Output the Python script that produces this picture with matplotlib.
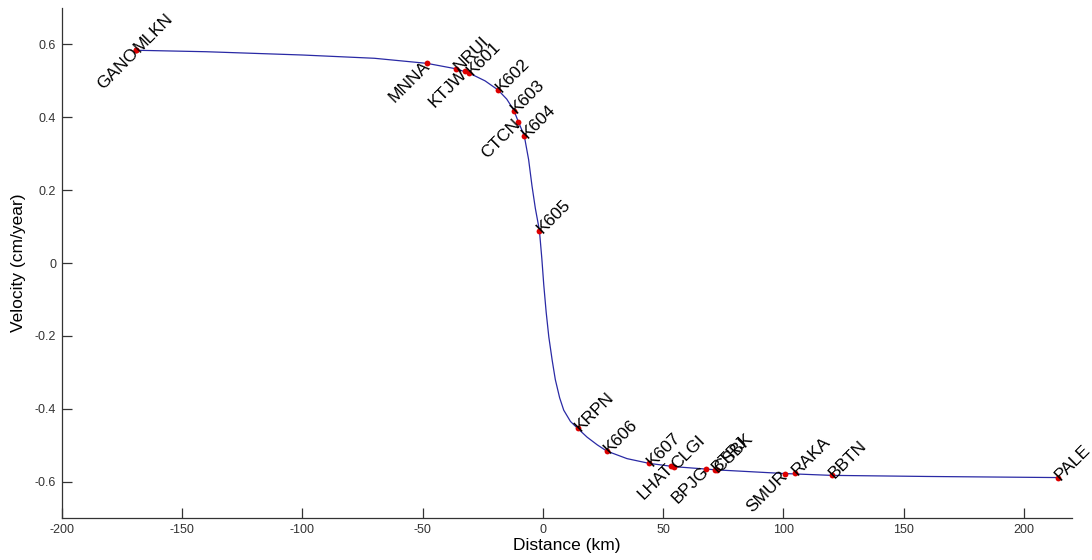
import matplotlib
matplotlib.use("Agg")
import matplotlib.pyplot as plt
import numpy as np

plt.rcParams['font.family'] = ['Liberation Sans', 'DejaVu Sans']
plt.rcParams['axes.unicode_minus'] = False

# stations: distance (km), velocity (cm/year)
left_names = ["GANO", "MNNA", "KTJW", "CTCN", "LHAT", "BPJG", "SMUR"]
left_dist = [-169.1, -48.1, -32.5, -10.3, 53.4, 68.0, 100.7]
left_vel = [0.584, 0.548, 0.527, 0.387, -0.557, -0.566, -0.579]

right_names = ["MLKN", "NRUI", "K601", "K602", "K603", "K604", "K605", "KRPN",
               "K606", "K607", "CLGI", "BTRJ", "CSBK", "RAKA", "BBTN", "PALE"]
right_dist = [-169.1, -36.0, -30.5, -18.6, -12.1, -7.7, -1.4, 14.5,
              26.5, 44.2, 54.5, 71.4, 72.5, 104.8, 120.1, 214.0]
right_vel = [0.584, 0.533, 0.521, 0.475, 0.418, 0.349, 0.089, -0.454,
             -0.516, -0.550, -0.559, -0.568, -0.568, -0.577, -0.583, -0.589]

# model curve
curve_dist = [-169.1, -140, -100, -70, -48.1, -36.0, -30.5, -24, -18.6, -15,
              -12.1, -10.3, -7.7, -5.9, -4.5, -3.1, -1.4, -0.4, 0.4, 1.4,
              2.5, 3.9, 5.2, 7.0, 8.7, 11.5, 14.5, 18.4, 22.6, 26.5, 35,
              44.2, 54.5, 72.5, 100.7, 120.1, 160, 214.0]
curve_vel = [0.584, 0.580, 0.571, 0.562, 0.548, 0.533, 0.521, 0.500, 0.475, 0.450,
             0.420, 0.390, 0.349, 0.284, 0.212, 0.150, 0.089, 0.012, -0.060, -0.135,
             -0.203, -0.267, -0.320, -0.370, -0.404, -0.435, -0.454, -0.478, -0.499, -0.516, -0.537,
             -0.550, -0.559, -0.568, -0.578, -0.583, -0.586, -0.589]

fig = plt.figure(figsize=(10.92, 5.6), dpi=100)
ax = fig.add_axes([0.0565, 0.075, 0.9252, 0.9107])

ax.plot(curve_dist, curve_vel, color='#2a2aa5', lw=0.9)
ax.plot(left_dist + right_dist, left_vel + right_vel, 'o', color='#dd0000',
        markersize=4.2, markeredgewidth=0)

for n, d, v in zip(left_names, left_dist, left_vel):
    ax.text(d, v, n, rotation=45, rotation_mode='anchor', ha='right', va='center', fontsize=12.5)
for n, d, v in zip(right_names, right_dist, right_vel):
    ax.text(d, v, n, rotation=45, rotation_mode='anchor', ha='left', va='center', fontsize=12.5)

ax.set_xlim(-200, 220)
ax.set_ylim(-0.7, 0.7)
ax.set_xticks(np.arange(-200, 201, 50))
ax.set_yticks([-0.6, -0.4, -0.2, 0, 0.2, 0.4, 0.6])
ax.set_yticklabels(["-0.6", "-0.4", "-0.2", "0", "0.2", "0.4", "0.6"])
ax.spines['top'].set_visible(False)
ax.spines['right'].set_visible(False)
for s in ['left', 'bottom']:
    ax.spines[s].set_color('#333333')
    ax.spines[s].set_linewidth(0.9)
ax.tick_params(direction='in', length=7, width=0.9, color='#333333',
               labelsize=9, labelcolor='#333333', pad=4)

ax.set_xlabel("Distance (km)", fontsize=12.5, labelpad=2)
ax.set_ylabel("Velocity (cm/year)", fontsize=12.5, labelpad=6)

fig.savefig("out.png", dpi=100)
